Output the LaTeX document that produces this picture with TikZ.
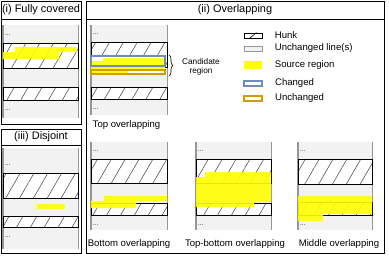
\documentclass[tikz,border=0pt]{standalone}
\usepackage{fontspec}
\setmainfont{Liberation Sans}
\usetikzlibrary{positioning, decorations.pathreplacing, patterns.meta}
\definecolor{colbg}{RGB}{242,242,242}
\definecolor{coledge}{RGB}{150,150,150}
\definecolor{srcyellow}{RGB}{255,255,0}
\definecolor{chgblue}{RGB}{108,142,191}
\definecolor{unchorange}{RGB}{215,155,0}

\begin{document}
\begin{tikzpicture}[x=1bp, y=-1bp,
    title/.style={font=\fontsize{11}{13}\selectfont},
    lbl/.style={font=\fontsize{9.6}{11}\selectfont},
    cand/.style={font=\fontsize{8.3}{9.5}\selectfont, align=center},
    dots/.style={font=\fontsize{6}{6}\selectfont, anchor=west, inner sep=0pt},
    hunk/.style={draw, line width=0.7bp, preaction={fill=white}, pattern={Lines[angle=60, distance=12bp, line width=0.5bp]}, pattern color=black!75},
    src/.style={fill=srcyellow, fill opacity=0.9},
    keybox/.style={minimum width=18bp, minimum height=5bp, inner sep=0pt, line width=0.8bp}
]
    \useasboundingbox (0,0) rectangle (389,256);
    \draw[line width=0.8bp] (1,1) rectangle (81,124) (1,19) -- (81,19);
    \draw[line width=0.8bp] (1,129) rectangle (81,253) (1,145) -- (81,145);
    \draw[line width=0.8bp] (86,1) rectangle (384,253) (86,19) -- (384,19);
    \node[title] (fully) at (41,10) {(i) Fully covered};
    \node[title] (disjoint) at (41,137) {(iii) Disjoint};
    \node[title] (overlap) at (235,10) {(ii) Overlapping};

    \foreach \l/\r/\t/\b/\ha/\hb/\hc/\hd in {3/78/25/118/43/68/87/100, 3/78/148/249/173/198/216/227,
        91/167/25/115/42/67/87/99, 91/167/142/230/159/183/203/215,
        196/271/142/230/159/183/203/215, 298/372/142/230/159/184/202/215} {
        \fill[colbg] (\l,\t) rectangle (\r,\b);
        \draw[coledge, line width=1.5bp] (\l,\t) -- (\l,\b);
        \draw[coledge, line width=0.8bp] (\r,\t) -- (\r,\b);
        \draw[hunk] (\l,\ha) rectangle (\r,\hb);
        \draw[hunk] (\l,\hc) rectangle (\r,\hd);
        \node[dots] at (\l+2,\ha-8) {...};
        \node[dots] at (\l+2,\hd+10) {...};
    }

    \fill[src] (15,47) -- (77,47) -- (77,52) -- (59,52) -- (59,59) -- (3,59) -- (3,52) -- (15,52) -- cycle;
    \fill[src] (37,204) rectangle (65,209);
    \fill[white] (91,56) rectangle (165,74);
    \fill[src] (103,58) -- (165,58) -- (165,69) -- (128,69) -- (128,74) -- (91,74) -- (91,61) -- (103,61) -- cycle;
    \draw[chgblue, line width=2bp] (91,56) rectangle (165,66);
    \draw[unchorange, line width=2bp] (91,70) rectangle (165,74);
    \fill[src] (104,196) -- (167,196) -- (167,201) -- (136,201) -- (136,208) -- (91,208) -- (91,201) -- (104,201) -- cycle;
    \fill[src] (205,172) -- (271,172) -- (271,202) -- (254,202) -- (254,207) -- (196,207) -- (196,177) -- (205,177) -- cycle;
    \fill[src] (298,196) -- (372,196) -- (372,214) -- (323,214) -- (323,221) -- (298,221) -- cycle;

    \coordinate (candtop) at (169,55);
    \coordinate (candbot) at (169,76);
    \draw[decorate, decoration={brace, amplitude=4bp}, line width=0.6bp] (candtop) -- (candbot);
    \node[cand] (candidate) at (201,67) {Candidate\\region};

    \node[lbl] (topov) at (126.5,125) {Top overlapping};
    \node[lbl] (botov) at (129,244) {Bottom overlapping};
    \node[lbl] (tbov) at (235,244) {Top-bottom overlapping};
    \node[lbl] (midov) at (339,244) {Middle overlapping};

    \node[keybox, draw, fill=white] (khunk) at (253,35.5) {};
    \draw[line width=0.6bp] ([xshift=6bp]khunk.south west) -- ([xshift=-6bp]khunk.north east);
    \node[keybox, draw=coledge, fill=colbg] (kunch) at (253,48.5) {};
    \node[keybox, fill=srcyellow, minimum height=8bp] (ksrc) at (253,65) {};
    \node[keybox, draw=chgblue, fill=white, line width=1.2bp] (kchg) at (253,83.5) {};
    \node[keybox, draw=unchorange, fill=white, line width=1.2bp] (kunc) at (253,98.5) {};
    \node[lbl, right=9bp of khunk] (thunk) {Hunk};
    \node[lbl, right=9bp of kunch] (tunch) {Unchanged line(s)};
    \node[lbl, right=9bp of ksrc] (tsrc) {Source region};
    \node[lbl, right=9bp of kchg] (tchg) {Changed};
    \node[lbl, right=9bp of kunc] (tunc) {Unchanged};
\end{tikzpicture}
\end{document}
